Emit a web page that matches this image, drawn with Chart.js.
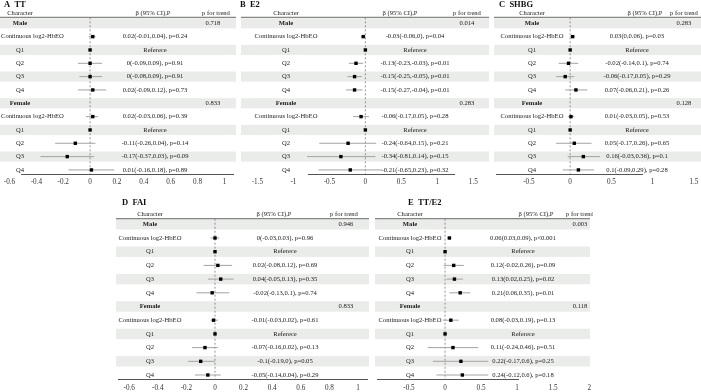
<!DOCTYPE html>
<html>
<head>
<meta charset="utf-8">
<script src="https://cdn.jsdelivr.net/npm/chart.js@4.4.0/dist/chart.umd.min.js"></script>
<style>
  html, body { margin: 0; padding: 0; background: #fff; overflow: hidden; }
  #wrap { position: relative; width: 701px; height: 392px; overflow: hidden; }
  #wrap canvas { position: absolute; }
</style>
</head>
<body>
<div id="wrap"></div>
<script>
// rows shared by every panel
const rowLabels = ["Male", "Continuous log2-HbEO", "Q1", "Q2", "Q3", "Q4",
  "Female", "Continuous log2-HbEO", "Q1", "Q2", "Q3", "Q4"];
const groupRows = [0, 6];

// A TT
const ttEst = [null, 0.02, 0, 0, 0, 0.02, null, 0.02, 0, -0.11, -0.17, 0.01];
const ttLow = [null, -0.01, null, -0.09, -0.08, -0.09, null, -0.03, null, -0.26, -0.37, -0.16];
const ttHigh = [null, 0.04, null, 0.09, 0.09, 0.12, null, 0.06, null, 0.04, 0.03, 0.18];
const ttP = [null, "0.24", null, "0.91", "0.91", "0.73", null, "0.39", null, "0.14", "0.09", "0.89"];
const ttTrend = ["0.718", "0.833"];
const ttTicks = [-0.6, -0.4, -0.2, 0, 0.2, 0.4, 0.6, 0.8, 1];

// B E2
const e2Est = [null, -0.03, 0, -0.13, -0.15, -0.15, null, -0.06, 0, -0.24, -0.34, -0.21];
const e2Low = [null, -0.06, null, -0.23, -0.25, -0.27, null, -0.17, null, -0.64, -0.81, -0.65];
const e2High = [null, 0, null, -0.03, -0.05, -0.04, null, 0.05, null, 0.15, 0.14, 0.23];
const e2P = [null, "0.04", null, "0.01", "0.01", "0.01", null, "0.28", null, "0.21", "0.15", "0.32"];
const e2Trend = ["0.014", "0.283"];
const e2Ticks = [-1.5, -1, -0.5, 0, 0.5, 1, 1.5];

// C SHBG
const shbgEst = [null, 0.03, 0, -0.02, -0.06, 0.07, null, 0.01, 0, 0.05, 0.16, 0.1];
const shbgLow = [null, 0, null, -0.14, -0.17, -0.06, null, -0.03, null, -0.17, -0.03, -0.09];
const shbgHigh = [null, 0.06, null, 0.1, 0.05, 0.21, null, 0.05, null, 0.26, 0.36, 0.29];
const shbgP = [null, "0.03", null, "0.74", "0.29", "0.26", null, "0.53", null, "0.65", "0.1", "0.28"];
const shbgTrend = ["0.283", "0.128"];
const shbgTicks = [-0.5, 0, 0.5, 1, 1.5];

// D FAI
const faiEst = [null, 0, 0, 0.02, 0.04, -0.02, null, -0.01, 0, -0.07, -0.1, -0.05];
const faiLow = [null, -0.03, null, -0.08, -0.05, -0.13, null, -0.03, null, -0.16, -0.19, -0.14];
const faiHigh = [null, 0.03, null, 0.12, 0.13, 0.1, null, 0.02, null, 0.02, 0, 0.04];
const faiP = [null, "0.96", null, "0.69", "0.35", "0.74", null, "0.61", null, "0.13", "0.05", "0.29"];
const faiTrend = ["0.946", "0.833"];
const faiTicks = [-0.6, -0.4, -0.2, 0, 0.2, 0.4, 0.6, 0.8, 1];

// E TT/E2
const ratioEst = [null, 0.06, 0, 0.12, 0.13, 0.21, null, 0.08, 0, 0.11, 0.22, 0.24];
const ratioLow = [null, 0.03, null, -0.02, 0.02, 0.06, null, -0.03, null, -0.24, -0.17, -0.12];
const ratioHigh = [null, 0.09, null, 0.26, 0.25, 0.35, null, 0.19, null, 0.46, 0.6, 0.6];
const ratioP = [null, "<0.001", null, "0.09", "0.02", "0.01", null, "0.13", null, "0.51", "0.25", "0.18"];
const ratioTrend = ["0.003", "0.118"];
const ratioTicks = [-0.5, 0, 0.5, 1, 1.5, 2];

const FONT = '"Liberation Serif", "DejaVu Serif", serif';
Chart.defaults.font.family = FONT;

const topRows = { rowY: 23.3, rowH: 13.33, headY: 13, lineY: 17.3, axisY: 174, titleY: 4.5, top: 0, height: 200 };
const lowRows = { rowY: 224.3, rowH: 13.7, headY: 214.3, lineY: 218.7, axisY: 379.5, titleY: 202.5, top: 190, height: 215 };

const panels = [
  Object.assign({ title: "A  TT", est: ttEst, low: ttLow, high: ttHigh, p: ttP, trend: ttTrend, ticks: ttTicks,
    left: 0, width: 237, bandL: 0, bandR: 236, zeroX: 87.3, unit: 137,
    titleX: 4, labelX: 20, betaX: 155, betaHeadX: 153, pX: 213, pHeadX: 216 }, topRows),
  Object.assign({ title: "B  E2", est: e2Est, low: e2Low, high: e2High, p: e2P, trend: e2Trend, ticks: e2Ticks,
    left: 238, width: 252, bandL: 241, bandR: 489, zeroX: 361, unit: 70,
    titleX: 240, labelX: 286, betaX: 415, betaHeadX: 400, pX: 467, pHeadX: 467 }, topRows),
  Object.assign({ title: "C  SHBG", est: shbgEst, low: shbgLow, high: shbgHigh, p: shbgP, trend: shbgTrend, ticks: shbgTicks,
    left: 492, width: 209, bandL: 494, bandR: 701, zeroX: 571.5, unit: 84,
    titleX: 499, labelX: 532, betaX: 637, betaHeadX: 645, pX: 684, pHeadX: 684 }, topRows),
  Object.assign({ title: "D  FAI", est: faiEst, low: faiLow, high: faiHigh, p: faiP, trend: faiTrend, ticks: faiTicks,
    left: 114, width: 257, bandL: 116, bandR: 369, zeroX: 215, unit: 143,
    titleX: 122, labelX: 150, betaX: 285, betaHeadX: 274, pX: 346, pHeadX: 344 }, lowRows),
  Object.assign({ title: "E  TT/E2", est: ratioEst, low: ratioLow, high: ratioHigh, p: ratioP, trend: ratioTrend, ticks: ratioTicks,
    left: 373, width: 220, bandL: 375, bandR: 590, zeroX: 445, unit: 72,
    titleX: 408, labelX: 410, betaX: 523, betaHeadX: 536, pX: 580, pHeadX: 580 }, lowRows)
];

function estText(p, i) {
  if (p.low[i] === null) return "Referece";
  const pv = p.p[i].startsWith("<") ? "p" + p.p[i] : "p=" + p.p[i];
  return p.est[i] + "(" + p.low[i] + "," + p.high[i] + "), " + pv;
}

const forestPlugin = {
  id: "forest",
  beforeDraw(chart, args, opts) {
    const p = opts.panel;
    const ctx = chart.ctx;
    const ys = chart.scales.y;
    const xs = chart.scales.x;
    ctx.save();
    // shaded rows
    ctx.fillStyle = "#eaece9";
    rowLabels.forEach((label, i) => {
      if (i % 2 !== 0) return;
      const y1 = ys.getPixelForValue(i - 0.38);
      const y2 = ys.getPixelForValue(i + 0.38);
      ctx.fillRect(p.bandL - p.left, y1, p.bandR - p.bandL, y2 - y1);
    });
    // header rule
    ctx.strokeStyle = "#444";
    ctx.lineWidth = 0.8;
    ctx.beginPath();
    ctx.moveTo(p.bandL - p.left, p.lineY - p.top);
    ctx.lineTo(p.bandR - p.left, p.lineY - p.top);
    ctx.stroke();
    // reference line at zero
    const x0 = xs.getPixelForValue(0);
    ctx.strokeStyle = "#777";
    ctx.lineWidth = 0.8;
    ctx.setLineDash([2, 2]);
    ctx.beginPath();
    ctx.moveTo(x0, p.lineY - p.top);
    ctx.lineTo(x0, chart.chartArea.bottom);
    ctx.stroke();
    ctx.restore();
  },
  afterDraw(chart, args, opts) {
    const p = opts.panel;
    const ctx = chart.ctx;
    const ys = chart.scales.y;
    ctx.save();
    ctx.textBaseline = "middle";
    ctx.fillStyle = "#111";
    ctx.font = "bold 8.5px " + FONT;
    ctx.textAlign = "left";
    ctx.fillText(p.title, p.titleX - p.left, p.titleY - p.top);

    ctx.fillStyle = "#222";
    ctx.font = "6.6px " + FONT;
    ctx.textAlign = "center";
    const hy = p.headY - p.top;
    ctx.fillText("Character", Math.max(p.labelX - p.left, p.bandL - p.left + 1 + ctx.measureText("Character").width / 2), hy);
    ctx.fillText("\u03B2 (95% CI),P", p.betaHeadX - p.left, hy);
    ctx.fillText("p for trend", p.pHeadX - p.left, hy);

    rowLabels.forEach((label, i) => {
      const y = ys.getPixelForValue(i);
      const isGroup = groupRows.includes(i);
      ctx.font = (isGroup ? "bold " : "") + "6.6px " + FONT;
      const w = ctx.measureText(label).width;
      const cx = Math.max(p.labelX - p.left, p.bandL - p.left + 1 + w / 2);
      ctx.fillText(label, cx, y);
      ctx.font = "6.6px " + FONT;
      if (isGroup) {
        ctx.fillText(p.trend[groupRows.indexOf(i)], p.pX - p.left, y);
      } else {
        ctx.fillText(estText(p, i), p.betaX - p.left, y);
      }
    });
    ctx.restore();
  }
};

function makePanel(p) {
  const canvas = document.createElement("canvas");
  canvas.width = p.width;
  canvas.height = p.height;
  canvas.style.left = p.left + "px";
  canvas.style.top = p.top + "px";
  canvas.style.width = p.width + "px";
  canvas.style.height = p.height + "px";
  document.getElementById("wrap").appendChild(canvas);

  const points = p.est.map((v, i) => ({ x: v, y: i })).filter(d => d.x !== null);
  const ciSets = [];
  p.low.forEach((lo, i) => {
    if (lo === null) return;
    ciSets.push({
      type: "line",
      data: [{ x: lo, y: i }, { x: p.high[i], y: i }],
      borderColor: "#a3a3a3",
      borderWidth: 1,
      pointRadius: 0,
      clip: false,
      order: 1
    });
  });

  const chart = new Chart(canvas.getContext("2d"), {
    type: "scatter",
    data: {
      datasets: [{
        data: points,
        pointStyle: "rect",
        pointRadius: 2.4,
        backgroundColor: "#000",
        borderColor: "#000",
        borderWidth: 0,
        clip: false,
        order: 0
      }].concat(ciSets)
    },
    options: {
      responsive: false,
      animation: false,
      devicePixelRatio: 1,
      layout: { padding: { left: p.bandL - p.left, right: p.left + p.width - p.bandR, top: 0, bottom: 0 } },
      plugins: {
        legend: { display: false },
        tooltip: { enabled: false },
        forest: { panel: p }
      },
      scales: {
        x: {
          type: "linear",
          min: -1,
          max: 1,
          grid: { display: false, drawTicks: false, tickLength: 0 },
          border: { color: "#555", width: 1 },
          ticks: {
            color: "#333",
            font: { size: 7.2 },
            padding: 4,
            autoSkip: false,
            maxRotation: 0,
            callback: (value) => String(value)
          },
          afterBuildTicks: (scale) => { scale.ticks = p.ticks.map(v => ({ value: v })); }
        },
        y: { type: "linear", reverse: true, display: false, min: -2, max: 12 }
      }
    },
    plugins: [forestPlugin]
  });

  // map values to the panel's pixel grid through the scales
  for (let k = 0; k < 4; k++) {
    const a = chart.chartArea;
    const o = chart.options;
    o.scales.x.min = (a.left + p.left - p.zeroX) / p.unit;
    o.scales.x.max = (a.right + p.left - p.zeroX) / p.unit;
    o.scales.y.min = (a.top + p.top - p.rowY) / p.rowH;
    o.scales.y.max = (a.bottom + p.top - p.rowY) / p.rowH;
    o.layout.padding.bottom = Math.max(0, o.layout.padding.bottom + (a.bottom + p.top - p.axisY));
    chart.update("none");
  }
  return chart;
}

panels.forEach(makePanel);
</script>
</body>
</html>
